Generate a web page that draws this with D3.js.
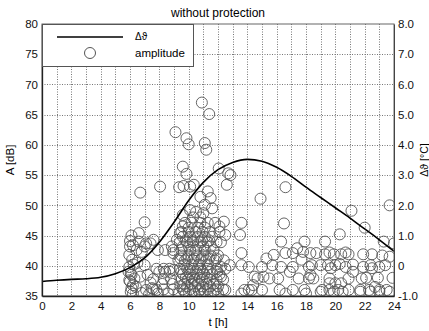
<!DOCTYPE html>
<html>
<head>
<meta charset="utf-8">
<script src="https://cdn.jsdelivr.net/npm/d3@7"></script>
<style>
  body { margin: 0; background: #fff; }
  text { font-family: "Liberation Sans", Arial, sans-serif; }
</style>
</head>
<body>
<svg id="chart" width="429" height="331"></svg>
<script>
// line series: temperature rise over the day
const hours = [0,1,2,3,4,5,6,7,8,9,10,11,12,13,14,15,16,17,18,19,20,21,22,23,24];
const deltaTheta = [-0.52,-0.48,-0.45,-0.43,-0.38,-0.26,-0.06,0.26,0.78,1.44,2.16,2.76,3.18,3.42,3.52,3.46,3.26,2.96,2.6,2.26,1.92,1.58,1.22,0.86,0.48];

// scatter series: [t in h, A in dB]
const amplitude = [
  [10.9,67.0],[11.4,65.1],[9.1,62.1],[9.85,61.1],[10.0,60.1],[11.1,60.3],[11.2,59.2],
  [9.6,56.4],[9.85,55.2],[12.05,56.1],[12.7,55.3],[12.85,55.0],
  [6.7,52.1],[8.05,53.1],[9.35,53.0],[9.65,53.2],[10.1,53.1],[10.35,53.4],[12.6,53.4],
  [10.8,51.4],[11.5,51.2],[11.1,50.1],[11.6,49.5],[11.3,52.3],
  [10.1,49.2],[10.5,48.9],[11.0,48.7],[9.6,48.4],
  [9.75,47.1],[10.2,47.1],[10.8,47.1],[11.3,47.1],[11.8,47.1],[7.0,47.2],
  [9.5,45.6],[10.0,45.6],[10.5,45.6],[10.95,45.6],[11.45,45.6],[12.1,45.6],
  [7.6,44.3],[7.4,43.7],[7.1,43.7],
  [9.4,43.9],[9.9,43.9],[10.3,43.9],[10.8,43.9],[11.3,43.9],[11.9,43.9],[12.2,43.9],
  [7.9,42.6],[8.4,42.6],[8.95,42.6],
  [9.5,42.6],[10.1,42.6],[10.5,42.6],[11.1,42.6],[11.7,42.6],
  [9.3,40.9],[9.75,40.9],[10.3,40.9],[10.8,40.9],[11.2,40.9],[11.8,40.9],[12.4,40.9],
  [7.8,39.5],[8.3,39.5],[8.7,39.5],
  [9.4,39.5],[9.9,39.5],[10.3,39.5],[10.8,39.5],[11.3,39.5],[11.9,39.5],[12.5,39.5],
  [7.6,37.8],[8.3,37.8],[8.8,37.8],
  [9.5,37.7],[9.95,37.7],[10.4,37.7],[10.9,37.7],[11.45,37.7],[11.9,37.7],[12.35,37.7],
  [7.6,36.1],[8.3,36.1],[8.95,36.1],[9.6,36.1],[10.1,36.1],[10.8,36.1],[11.3,36.1],[11.9,36.1],[12.35,36.1],
  [9.6,44.8],[10.1,44.8],[10.6,44.8],[11.1,44.8],[11.6,44.8],
  [9.5,41.7],[10.0,41.7],[10.55,41.7],[11.0,41.7],[11.5,41.7],[12.0,41.7],
  [9.6,38.6],[10.1,38.6],[10.6,38.6],[11.05,38.6],[11.6,38.6],[12.1,38.6],
  [9.3,35.4],[9.8,35.4],[10.4,35.4],[10.9,35.4],[11.5,35.4],[12.0,35.4],
  [9.7,40.2],[10.2,40.2],[10.7,40.2],[11.3,40.2],
  [9.7,37.0],[10.2,37.0],[10.65,37.0],[11.2,37.0],[11.7,37.0],
  [9.8,44.2],[10.3,44.2],[10.9,44.2],[11.4,44.2],
  [9.6,43.2],[10.0,43.2],[10.6,43.2],[11.0,43.2],[11.5,43.2],
  [9.45,41.2],[9.9,41.2],[10.4,41.2],[10.9,41.2],[11.4,41.2],[11.9,41.2],
  [9.5,39.0],[10.0,39.0],[10.5,39.0],[10.95,39.0],[11.45,39.0],[11.95,39.0],
  [9.8,38.0],[10.25,38.0],[10.75,38.0],[11.25,38.0],
  [9.45,36.6],[9.9,36.6],[10.45,36.6],[10.95,36.6],[11.45,36.6],[12.0,36.6],
  [9.7,35.8],[10.3,35.8],[10.7,35.8],[11.1,35.8],[11.7,35.8],
  [10.0,46.3],[10.6,46.3],[11.1,46.3],[10.3,48.0],[10.8,48.0],
  [8.95,42.1],[8.85,43.2],[9.2,44.3],[9.4,45.4],[9.6,46.5],
  [6.0,43.2],[6.2,43.4],[6.6,44.0],[6.45,42.6],[6.8,42.3],[7.0,43.2],
  [5.9,39.0],[6.1,38.5],[6.0,37.4],[6.1,36.3],[6.2,35.4],
  [5.95,39.8],[6.05,38.8],[5.95,37.6],[6.2,36.8],[6.05,35.7],
  [6.15,41.0],[5.95,41.8],[6.25,40.2],[6.3,37.9],[6.0,44.1],
  [6.1,45.0],[6.6,45.4],[7.0,40.1],[7.5,36.3],[7.1,36.0],[7.8,36.0],
  [8.0,39.0],[8.4,39.0],[8.7,39.0],[8.95,39.3],
  [6.5,40.5],[6.7,38.2],[6.4,36.5],[6.8,35.5],[7.2,38.5],[7.3,35.3],
  [7.9,35.4],[8.6,35.4],[8.2,37.0],[8.9,37.0],[7.4,37.2],
  [14.9,51.1],[16.6,53.0],[13.6,47.1],[16.5,47.0],[21.1,49.1],[22.0,46.3],[23.7,50.0],
  [12.4,47.3],[12.1,46.5],[12.5,45.1],[13.5,45.1],[16.3,44.0],[17.9,44.0],
  [20.3,45.2],[19.3,44.0],[23.3,44.0],[24.0,43.7],
  [13.6,42.1],[15.3,41.2],[15.8,41.8],[16.6,42.1],[17.1,42.1],[17.4,42.9],[17.8,42.3],[18.3,42.1],[18.7,42.1],
  [19.3,41.9],[19.9,41.9],[20.4,41.9],[20.9,41.9],[21.9,41.9],[22.5,41.9],[23.7,41.5],[23.2,41.7],
  [17.7,41.0],[19.6,42.2],[20.7,42.2],
  [12.8,40.1],[13.6,40.1],[15.7,40.1],[18.4,40.1],[19.0,40.1],
  [19.5,40.1],[20.0,40.1],[20.3,40.3],[21.2,40.2],[22.4,40.1],[23.4,40.1],
  [12.2,39.8],[14.1,39.8],[15.0,39.8],[16.3,39.8],[17.1,39.8],[18.2,39.8],[19.7,39.6],[20.7,39.8],[21.9,39.8],[22.5,39.6],[23.0,39.8],
  [21.2,39.0],[16.9,39.0],[18.3,38.5],
  [12.2,38.2],[14.5,38.2],[15.1,38.2],[17.5,37.9],[18.2,37.9],
  [14.7,37.9],[15.5,37.9],[16.1,37.9],[18.5,37.9],[19.6,37.9],[20.9,37.9],[21.8,37.9],
  [22.1,38.0],[22.9,38.0],[23.9,38.0],
  [19.6,37.1],[20.0,37.1],[20.4,37.1],[14.4,36.8],[14.3,36.0],[12.5,36.0],[22.7,36.5],
  [13.8,36.0],[14.1,36.0],[15.0,36.0],[16.2,36.0],[17.1,36.0],[17.9,36.0],[19.1,36.0],[19.6,36.0],[20.2,36.0],[20.9,36.0],[21.7,36.0],[22.3,36.0],[23.0,36.0],[23.5,36.0],
  [13.6,35.4],[16.6,35.4],[18.0,35.4],[19.0,35.7],[19.9,35.7],[20.5,35.7],[21.7,35.7],[22.4,35.7],[23.0,35.7],[23.7,35.7]
];

const xTicks = [0,2,4,6,8,10,12,14,16,18,20,22,24];
const leftTicks = [35,40,45,50,55,60,65,70,75,80];
const rightTicks = [-1,0,1,2,3,4,5,6,7,8];

const margin = {left: 42, right: 35, top: 24, bottom: 35};
const width = 429, height = 331;

const svg = d3.select("#chart");

const x = d3.scaleLinear().domain([0, 24]).range([margin.left, width - margin.right]);
const yA = d3.scaleLinear().domain([35, 80]).range([height - margin.bottom, margin.top]);
const yT = d3.scaleLinear().domain([-1, 8]).range([height - margin.bottom, margin.top]);

// grid
const grid = svg.append("g")
  .attr("stroke", "#777")
  .attr("stroke-width", 1)
  .attr("stroke-dasharray", "1,1.5");
grid.selectAll("line.v")
  .data(d3.range(1, 24))
  .enter().append("line")
  .attr("x1", d => Math.round(x(d)) + 0.5).attr("x2", d => Math.round(x(d)) + 0.5)
  .attr("y1", yA(80)).attr("y2", yA(35));
grid.selectAll("line.h")
  .data(leftTicks.slice(1, -1))
  .enter().append("line")
  .attr("x1", x(0)).attr("x2", x(24))
  .attr("y1", d => Math.round(yA(d)) + 0.5).attr("y2", d => Math.round(yA(d)) + 0.5);

svg.append("clipPath").attr("id", "plot")
  .append("rect")
  .attr("x", x(0)).attr("y", yA(80))
  .attr("width", x(24) - x(0)).attr("height", yA(35) - yA(80));

// scatter
svg.append("g")
  .attr("clip-path", "url(#plot)")
  .selectAll("circle")
  .data(amplitude)
  .enter().append("circle")
  .attr("cx", d => x(d[0]))
  .attr("cy", d => yA(d[1]))
  .attr("r", 5.5)
  .attr("fill", "none")
  .attr("stroke", "#555")
  .attr("stroke-width", 0.9);

// temperature line
const line = d3.line()
  .x((d, i) => x(hours[i]))
  .y(d => yT(d))
  .curve(d3.curveMonotoneX);

svg.append("path")
  .datum(deltaTheta)
  .attr("fill", "none")
  .attr("stroke", "#000")
  .attr("stroke-width", 1.6)
  .attr("d", line);

// frame
svg.append("rect")
  .attr("x", x(0)).attr("y", yA(80))
  .attr("width", x(24) - x(0)).attr("height", yA(35) - yA(80))
  .attr("fill", "none")
  .attr("stroke", "#666");

// axes
const axisLeft = svg.append("g")
  .attr("transform", `translate(${x(0)},0)`)
  .call(d3.axisLeft(yA).tickValues(leftTicks).tickSize(0).tickPadding(4));
const axisRight = svg.append("g")
  .attr("transform", `translate(${x(24)},0)`)
  .call(d3.axisRight(yT).tickValues(rightTicks).tickSize(0).tickPadding(4)
    .tickFormat(d => d === 0 ? "0" : d.toFixed(1)));
const axisBottom = svg.append("g")
  .attr("transform", `translate(0,${yA(35)})`)
  .call(d3.axisBottom(x).tickValues(xTicks).tickSize(0).tickPadding(6));

[axisLeft, axisRight, axisBottom].forEach(g => {
  g.select(".domain").attr("stroke", "#222").attr("stroke-width", 1.3);
  g.selectAll("text").attr("font-size", 11.5).attr("fill", "#111")
    .attr("font-family", "'Liberation Sans', Arial, sans-serif");
});
axisRight.select(".domain").attr("stroke", "#444").attr("stroke-width", 1);

// titles
svg.append("text")
  .attr("x", (x(0) + x(24)) / 2).attr("y", 17)
  .attr("text-anchor", "middle")
  .attr("font-size", 12)
  .text("without protection");

svg.append("text")
  .attr("x", (x(0) + x(24)) / 2).attr("y", 326)
  .attr("text-anchor", "middle")
  .attr("font-size", 11.5)
  .text("t [h]");

svg.append("text")
  .attr("transform", `translate(14,${(yA(35) + yA(80)) / 2}) rotate(-90)`)
  .attr("text-anchor", "middle")
  .attr("font-size", 11.5)
  .text("A [dB]");

svg.append("text")
  .attr("transform", `translate(428,${(yA(35) + yA(80)) / 2}) rotate(-90)`)
  .attr("text-anchor", "middle")
  .attr("font-size", 10.5)
  .text("Δϑ [°C]");

// legend
const legend = svg.append("g");
legend.append("rect")
  .attr("x", x(0) + 0.5).attr("y", yA(80) + 0.5)
  .attr("width", 151).attr("height", 42)
  .attr("fill", "#fff").attr("stroke", "#555");
legend.append("line")
  .attr("x1", 57).attr("x2", 123).attr("y1", 37).attr("y2", 37)
  .attr("stroke", "#000").attr("stroke-width", 1.6);
legend.append("text")
  .attr("x", 135).attr("y", 40)
  .attr("font-size", 10)
  .attr("font-family", "'Liberation Serif', serif")
  .text("Δϑ");
legend.append("circle")
  .attr("cx", 90).attr("cy", 53).attr("r", 5.5)
  .attr("fill", "none").attr("stroke", "#555");
legend.append("text")
  .attr("x", 135).attr("y", 57)
  .attr("font-size", 11.5)
  .text("amplitude");
</script>
</body>
</html>
